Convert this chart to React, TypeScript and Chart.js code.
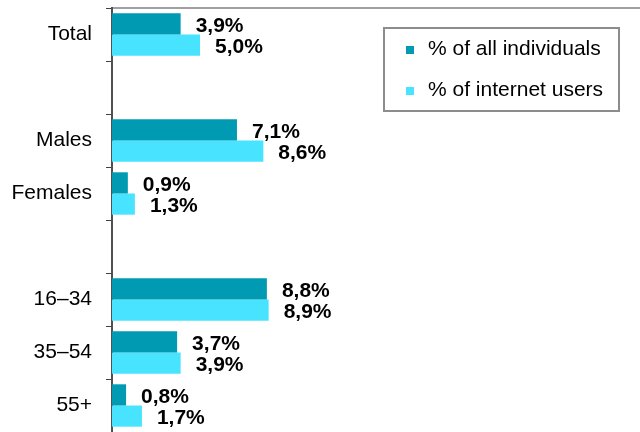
import React, { useEffect, useRef } from "react";
import { Chart, registerables } from "chart.js";

Chart.register(...registerables);

const categories = ["Total", "", "Males", "Females", "", "16–34", "35–54", "55+"];
const allIndividuals = [3.9, null, 7.1, 0.9, null, 8.8, 3.7, 0.8];
const internetUsers = [5.0, null, 8.6, 1.3, null, 8.9, 3.9, 1.7];
const seriesNames = ["% of all individuals", "% of internet users"];
const seriesColors = ["#009AB3", "#48E4FF"];

const FONT = "'Liberation Sans', Arial, sans-serif";

const valueLabels = {
  id: "valueLabels",
  afterDatasetsDraw(chart: any) {
    const ctx = chart.ctx;
    ctx.save();
    ctx.font = `bold 21px ${FONT}`;
    ctx.fillStyle = "#000";
    ctx.textAlign = "left";
    ctx.textBaseline = "middle";
    chart.data.datasets.forEach((ds: any, di: number) => {
      const meta = chart.getDatasetMeta(di);
      meta.data.forEach((el: any, i: number) => {
        const v = ds.data[i];
        if (v === null || v === undefined) return;
        ctx.fillText(v.toFixed(1).replace(".", ",") + "%", el.x + 15, el.y + 2);
      });
    });
    ctx.restore();
  },
};

const boxLegend = {
  id: "boxLegend",
  afterDraw(chart: any) {
    const ctx = chart.ctx;
    ctx.save();
    ctx.fillStyle = "#fff";
    ctx.fillRect(384, 28, 235, 83);
    ctx.strokeStyle = "#8c8c8c";
    ctx.lineWidth = 2;
    ctx.strokeRect(384, 28, 235, 83);
    ctx.font = `21px ${FONT}`;
    ctx.textAlign = "left";
    ctx.textBaseline = "middle";
    const ys = [50, 91];
    chart.data.datasets.forEach((ds: any, i: number) => {
      ctx.fillStyle = ds.backgroundColor;
      ctx.fillRect(406, ys[i] - 4, 8, 8);
      ctx.fillStyle = "#000";
      ctx.fillText(ds.label, 428, ys[i] - 1);
    });
    ctx.restore();
  },
};

export default function App() {
  const ref = useRef<HTMLCanvasElement>(null);
  useEffect(() => {
    if (!ref.current) return;
    const chart = new Chart(ref.current, {
      type: "bar",
      data: {
        labels: categories,
        datasets: [
          { label: seriesNames[0], data: allIndividuals, backgroundColor: seriesColors[0] },
          { label: seriesNames[1], data: internetUsers, backgroundColor: seriesColors[1] },
        ],
      },
      options: {
        indexAxis: "y",
        animation: false,
        responsive: false,
        maintainAspectRatio: false,
        layout: { padding: { top: 8, right: 0, bottom: 0, left: 0 } },
        datasets: { bar: { categoryPercentage: 0.8, barPercentage: 1.0 } },
        plugins: { legend: { display: false }, tooltip: { enabled: false } },
        scales: {
          x: {
            position: "top",
            min: 0,
            max: 30,
            ticks: { display: false, padding: 0 },
            grid: { display: false, drawTicks: false },
            border: { display: true, color: "#a0a0a0", width: 2 },
            afterFit(scale: any) {
              scale.height = 0;
              scale.paddingLeft = 0;
              scale.paddingRight = 0;
            },
          },
          y: {
            ticks: {
              color: "#000",
              font: { family: FONT, size: 21 },
              padding: 14,
              autoSkip: false,
            },
            grid: {
              offset: true,
              drawOnChartArea: false,
              drawTicks: true,
              tickLength: 6,
              color: "#404040",
              lineWidth: 1,
            },
            border: { display: true, color: "#505050", width: 2 },
            afterFit(scale: any) {
              scale.width = 112;
              scale.paddingTop = 0;
              scale.paddingBottom = 0;
            },
          },
        },
      } as any,
      plugins: [valueLabels, boxLegend],
    });
    return () => chart.destroy();
  }, []);
  return (
    <div style={{ position: "fixed", left: 0, top: 0, width: 640, height: 432, background: "#fff" }}>
      <canvas ref={ref} width={640} height={432} style={{ display: "block" }} />
    </div>
  );
}
